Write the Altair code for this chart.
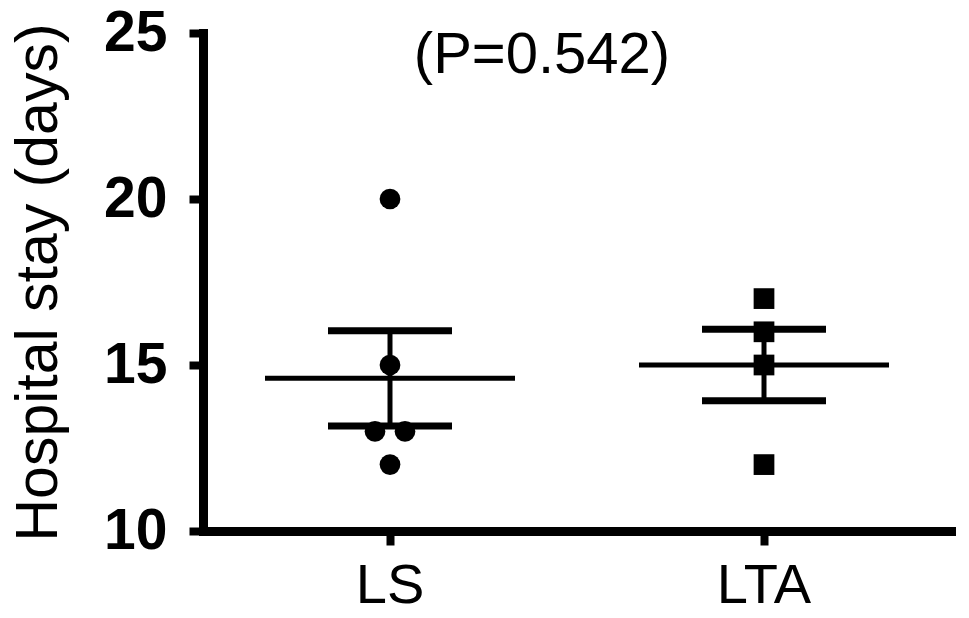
import altair as alt
import pandas as pd
import numpy as np

# Data
groups = ["LS", "LTA"]
ls_values = [20, 15, 13, 13, 12]
lta_values = [17, 16, 15, 12]
p_label = "(P=0.542)"
y_ticks = [10, 15, 20, 25]

FONT = "Liberation Sans"

# individual points, with side-by-side offsets for tied values
rows = []
for g, vals in zip(groups, [ls_values, lta_values]):
    counts = pd.Series(vals).value_counts()
    seen = {}
    for v in vals:
        n = counts[v]
        k = seen.get(v, 0)
        seen[v] = k + 1
        off = 0.0 if n == 1 else (-1 + 2 * k / (n - 1))
        rows.append({"group": g, "value": v, "off": off})
pts = pd.DataFrame(rows)

# summary: mean and standard error
summ = []
for g, vals in zip(groups, [ls_values, lta_values]):
    a = np.array(vals, dtype=float)
    m = a.mean()
    se = a.std(ddof=1) / np.sqrt(len(a))
    summ.append({"group": g, "mean": m, "lo": m - se, "hi": m + se})
summ = pd.DataFrame(summ)

W, H = 748, 498
STEP = W / len(groups)
JIT = 15

xscale = alt.Scale(domain=groups, paddingInner=0, paddingOuter=0)
yscale = alt.Scale(domain=[10, 25], nice=False, zero=False)

xaxis = alt.Axis(labelAngle=0, labelFontSize=56, labelFont=FONT, labelColor="black",
                 tickSize=14, tickWidth=8, tickColor="black", domainColor="black",
                 domainWidth=9, domainCap="square", labelPadding=13, title=None, grid=False)
yaxis = alt.Axis(values=y_ticks, labelFontSize=57, labelFontWeight="bold", labelFont=FONT,
                 labelColor="black", tickSize=14, tickWidth=8, tickColor="black",
                 domainColor="black", domainWidth=9, domainCap="square", labelPadding=22,
                 grid=False, title="Hospital stay (days)", titleFont=FONT, titleFontSize=59,
                 titleFontWeight="normal", titleColor="black", titleAngle=270,
                 titleX=-147, titleY=H / 2, titleAlign="center", titleBaseline="alphabetic")

base_x = alt.X("group:N", scale=xscale, axis=xaxis, sort=groups)

points = alt.Chart(pts).mark_point(filled=True, opacity=1, color="black", size=430).encode(
    x=base_x,
    xOffset=alt.XOffset("off:Q", scale=alt.Scale(domain=[-1, 1],
                                                  range=[STEP / 2 - JIT, STEP / 2 + JIT])),
    y=alt.Y("value:Q", scale=yscale, axis=yaxis),
    shape=alt.Shape("group:N", scale=alt.Scale(domain=groups, range=["circle", "square"]), legend=None),
)

stem = alt.Chart(summ).mark_rule(color="black", strokeWidth=5).encode(
    x=base_x, y=alt.Y("lo:Q", scale=yscale), y2="hi:Q"
)
caps_hi = alt.Chart(summ).mark_tick(color="black", size=124, thickness=7, opacity=1).encode(
    x=base_x, y=alt.Y("hi:Q", scale=yscale)
)
caps_lo = alt.Chart(summ).mark_tick(color="black", size=124, thickness=7, opacity=1).encode(
    x=base_x, y=alt.Y("lo:Q", scale=yscale)
)
mean_line = alt.Chart(summ).mark_tick(color="black", size=250, thickness=5, opacity=1).encode(
    x=base_x, y=alt.Y("mean:Q", scale=yscale)
)

ptext = alt.Chart(pd.DataFrame({"t": [p_label]})).mark_text(
    font=FONT, fontSize=58, color="black", align="center", baseline="alphabetic"
).encode(x=alt.value(339), y=alt.value(40), text="t:N")

chart = alt.layer(stem, caps_hi, caps_lo, mean_line, points, ptext).properties(
    width=W, height=H,
    background="white",
    autosize=alt.AutoSizeParams(type="none"),
    padding={"left": 195, "top": 25, "right": 10, "bottom": 79},
).configure_view(strokeWidth=0, stroke=None)

chart.save("out.html", embed_options={"renderer": "svg", "actions": False})
